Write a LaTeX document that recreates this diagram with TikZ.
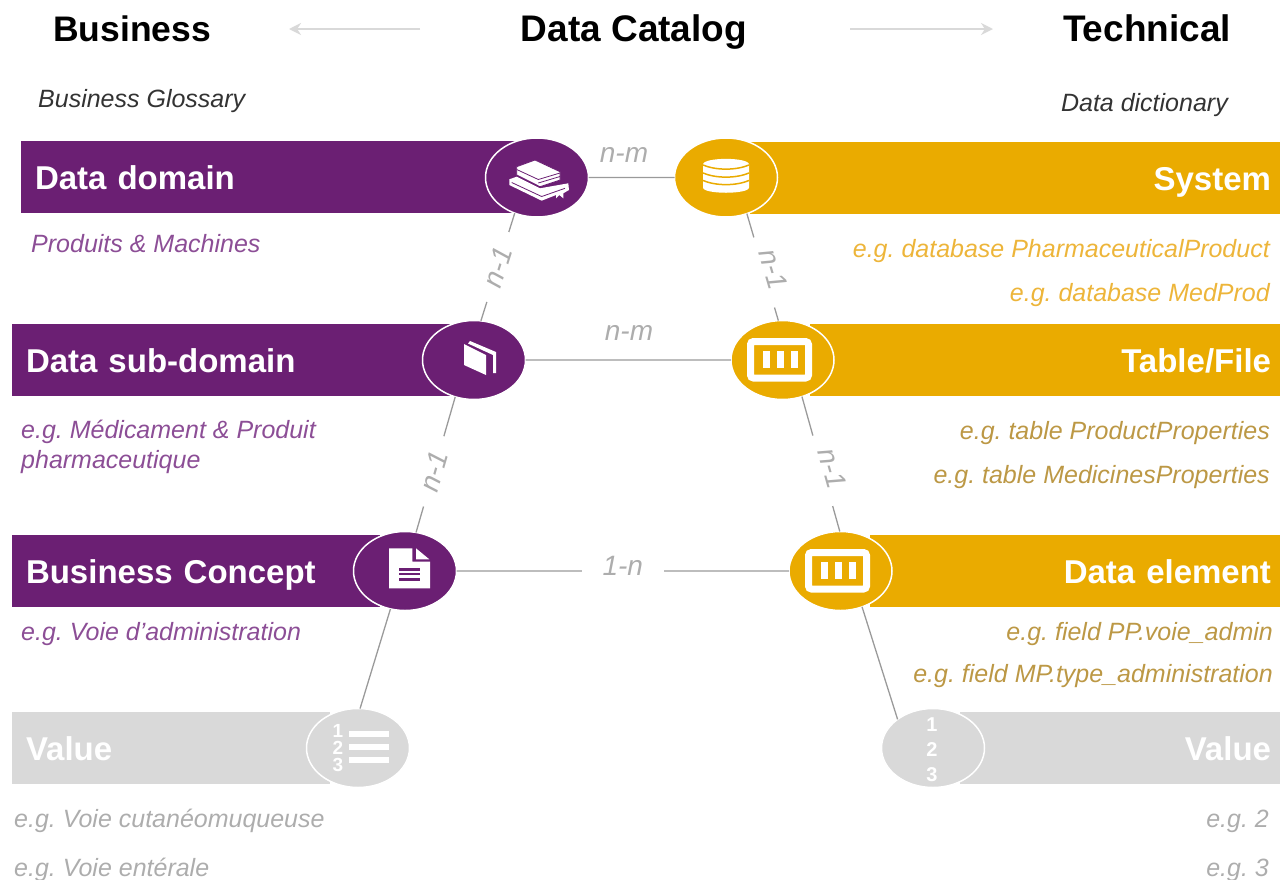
\documentclass[tikz,border=0pt]{standalone}
\usepackage{fontspec}
\setmainfont{Liberation Sans}
\usetikzlibrary{arrows.meta, shapes.geometric}
\definecolor{plum}{HTML}{6B1F73}
\definecolor{amber}{HTML}{EAAB00}
\definecolor{mist}{HTML}{D9D9D9}
\definecolor{ink}{HTML}{333333}
\definecolor{plumtext}{HTML}{8C4E96}
\definecolor{ambertext}{HTML}{EDB53A}
\definecolor{ochretext}{HTML}{BC9845}
\definecolor{misttext}{HTML}{ADADAD}
\definecolor{wire}{HTML}{9A9A9A}
\tikzset{
    >={Stealth[length=12pt, width=12pt]}, % Default arrow tip
    title/.style={font=\bfseries\fontsize{#1}{40}\selectfont, anchor=base},
    note/.style={font=\itshape\fontsize{25}{30}\selectfont, align=left, inner sep=0pt},
    hub/.style={ellipse, draw=white, line width=1.5pt, minimum width=103pt,
        minimum height=79pt, inner sep=0pt, outer sep=0pt},
    bar/.style={minimum height=72pt, inner ysep=0pt, outer sep=0pt, text=white,
        text height=24pt, text depth=0pt, font=\bfseries\fontsize{33}{36}\selectfont},
    leftbar/.style={bar, anchor=north west, inner xsep=14pt, align=left},
    rightbar/.style={bar, anchor=north east, inner xsep=9pt, align=right},
    wireline/.style={draw=wire, line width=1.3pt},
    tag/.style={font=\itshape\fontsize{28}{30}\selectfont, text=misttext},
    card/.style={tag, fill=white, sloped, inner xsep=0pt, inner ysep=4pt, minimum width=73pt},
    digit/.style={white, inner sep=0pt, font=\bfseries\fontsize{#1}{#1}\selectfont}
}

\begin{document}
\frenchspacing
\begin{tikzpicture}[x=1pt, y=-1pt]
    \useasboundingbox (0, 0) rectangle (1280, 879);
    % headings
    \draw
        node[title=35.5] (business) at (132, 41) {Business}
        node[title=37] (catalog) at (634, 41) {Data Catalog}
        node[title=37] (technical) at (1147, 41) {Technical}
        node[note, text=ink, anchor=base west] (glossary) at (38, 107) {Business Glossary}
        node[note, text=ink, anchor=base east] (dictionary) at (1228, 111) {Data dictionary}
    ;
    \coordinate (leftfrom) at (420, 29);
    \coordinate (leftto) at (289, 29);
    \coordinate (rightfrom) at (850, 29);
    \coordinate (rightto) at (993, 29);
    \draw
        [->, mist, line width=2pt]
        (leftfrom) -- (leftto)
    ;
    \draw
        [->, mist, line width=2pt]
        (rightfrom) -- (rightto)
    ;
    % bars
    \draw
        node[leftbar, fill=plum, text width=471pt] (domainbar) at (21, 141) {Data domain}
        node[leftbar, fill=plum, text width=410pt] (subdomainbar) at (12, 324) {Data sub-domain}
        node[leftbar, fill=plum, text width=340pt] (conceptbar) at (12, 535) {Business Concept}
        node[leftbar, fill=mist, text width=290pt] (valuebar) at (12, 712) {Value}
        node[rightbar, fill=amber, text width=512pt] (systembar) at (1280, 142) {System}
        node[rightbar, fill=amber, text width=452pt] (tablebar) at (1280, 324) {Table/File}
        node[rightbar, fill=amber, text width=392pt] (elementbar) at (1280, 535) {Data element}
        node[rightbar, fill=mist, text width=302pt] (numberbar) at (1280, 712) {Value}
    ;
    % hubs
    \draw
        node[hub, fill=plum] (domain) at (537, 177.5) {}
        node[hub, fill=plum] (subdomain) at (474, 360) {}
        node[hub, fill=plum] (concept) at (405, 571) {}
        node[hub, fill=mist] (value) at (358, 748) {}
        node[hub, fill=amber] (system) at (726, 177.5) {}
        node[hub, fill=amber] (table) at (782.5, 360) {}
        node[hub, fill=amber] (element) at (840.5, 571) {}
        node[hub, fill=mist] (number) at (933, 748) {}
    ;
    % connectors
    \draw
        [wireline]
        (domain.east) -- (system.west)
        (subdomain.east) -- (table.west)
        (concept.east) -- node[tag, fill=white, inner xsep=0pt, inner ysep=2pt, minimum width=82pt, yshift=5pt] (concepttag) {1-n} (element.west)
        (domain.238) -- node[card] (domaintag) {n-1} (subdomain.80)
        (subdomain.243) -- node[card, pos=.55] (subdomaintag) {n-1} (concept.74)
        (system.300) -- node[card, pos=.55, yshift=10pt] (systemtag) {n-1} (table.96)
        (table.298) -- node[card, pos=.55, yshift=10pt] (tabletag) {n-1} (element.91)
        (concept.249) -- (value.87)
        (element.301) -- (number.141)
    ;
    \draw
        node[tag] (systemcard) at (624, 155) {n-m}
        node[tag] (tablecard) at (629, 333) {n-m}
    ;
    % notes
    \draw
        node[note, text=plumtext, anchor=base west] (domainnote) at (31, 252) {Produits \& Machines}
        node[note, text=plumtext, anchor=base west] (subdomainnote) at (21, 468) {e.g. Médicament \& Produit\\pharmaceutique}
        node[note, text=plumtext, anchor=base west] (conceptnote) at (21, 640) {e.g. Voie d’administration}
        node[note, text=misttext, anchor=base west] (valuenote) at (14, 827) {e.g. Voie cutanéomuqueuse}
        node[note, text=misttext, anchor=base west] (valuenotetwo) at (14, 876) {e.g. Voie entérale}
        node[note, text=ambertext, anchor=base east] (systemnote) at (1270, 257) {e.g. database PharmaceuticalProduct}
        node[note, text=ambertext, anchor=base east] (systemnotetwo) at (1270, 301) {e.g. database MedProd}
        node[note, text=ochretext, anchor=base east] (tablenote) at (1270, 439) {e.g. table ProductProperties}
        node[note, text=ochretext, anchor=base east] (tablenotetwo) at (1270, 483) {e.g. table MedicinesProperties}
        node[note, text=ochretext, anchor=base east] (elementnote) at (1273, 640) {e.g. field PP.voie\_admin}
        node[note, text=ochretext, anchor=base east] (elementnotetwo) at (1273, 682) {e.g. field MP.type\_administration}
        node[note, text=misttext, anchor=base east] (numbernote) at (1269, 827) {e.g. 2}
        node[note, text=misttext, anchor=base east] (numbernotetwo) at (1269, 876) {e.g. 3}
    ;
    % icon: books
    \begin{scope}[shift={(domain)}]
        \fill[white] (-27.7, 1.8) -- (-20.3, -0.8) -- (3, 10.8) -- (31.3, 5.8) -- (32, 12.5)
            -- (26.3, 15.8) -- (26.3, 20.8) -- (22.3, 17.5) -- (19, 20.8) -- (19, 17.5)
            -- (4.7, 23.2) -- (-27.7, 7.5) -- cycle;
        \draw[plum, line width=.8pt] (-25.3, 5) -- (4.7, 19) -- (28, 10.8);
        \filldraw[fill=white, draw=plum, line width=.8pt] (-20.3, -10.8) -- (-2, -17.5) -- (23, -5.8)
            -- (23, 2.5) -- (3, 9.2) -- (-20.3, -2.5) -- cycle;
        \draw[plum, line width=.8pt] (-20.3, -8) -- (1.3, 2) -- (23, -4.5) (1.3, 5.5) -- (23, -1);
    \end{scope}
    % icon: book
    \begin{scope}[shift={(subdomain)}]
        \fill[white] (-10, -16) -- (12, -5) -- (12, 15) -- (-10, 5) -- cycle;
        \fill[white] (-4, -19) -- (22, -8) -- (22, 13) -- (19, 13) -- (19, -5) -- (-6, -16.5) -- cycle;
    \end{scope}
    % icon: page
    \begin{scope}[shift={(concept)}]
        \fill[white] (-16, -22.7) -- (7.3, -22.7) -- (7.3, -9.3) -- (25, -9.3) -- (25, 17.3) -- (-16, 17.3) -- cycle;
        \fill[white] (11, -22.7) -- (24.3, -11.7) -- (11, -11.7) -- cycle;
        \foreach \y in {-1.7, 3, 8.3} {
            \fill[plum] (-6, \y-1.2) rectangle (15, \y+1.2);
        }
    \end{scope}
    % icon: list
    \begin{scope}[shift={(value)}]
        \foreach \y in {-14, -1, 12} {
            \fill[white] (-9, \y-3.2) rectangle (31, \y+3.2);
        }
    \end{scope}
    \draw
        node[digit=19] (listone) at (338, 731) {1}
        node[digit=19] (listtwo) at (338, 748) {2}
        node[digit=19] (listthree) at (338, 765) {3}
        node[digit=20] (numberone) at (932, 725) {1}
        node[digit=20] (numbertwo) at (932, 750) {2}
        node[digit=20] (numberthree) at (932, 775) {3}
    ;
    % icon: database
    \begin{scope}[shift={(system)}]
        \fill[white] (-23, -13) .. controls (-23, -20.5) and (23, -20.5) .. (23, -13) -- (23, 10)
            .. controls (23, 17) and (-23, 17) .. (-23, 10) -- cycle;
        \foreach \y in {-12.5, -4.5, 3} {
            \draw[amber, line width=1.5pt] (-23, \y) .. controls (-10, \y+5.5) and (10, \y+5.5) .. (23, \y);
        }
    \end{scope}
    % icon: table, twice
    \foreach \hub in {table, element} {
        \begin{scope}[shift={(\hub)}]
            \draw[white, line width=7pt, rounded corners=3pt] (-32, -18.5) rectangle (26, 18);
            \foreach \x in {-19.5, -5.5, 8.5} {
                \fill[white] (\x, -9) rectangle (\x+7, 8);
            }
        \end{scope}
    }
\end{tikzpicture}
\end{document}
